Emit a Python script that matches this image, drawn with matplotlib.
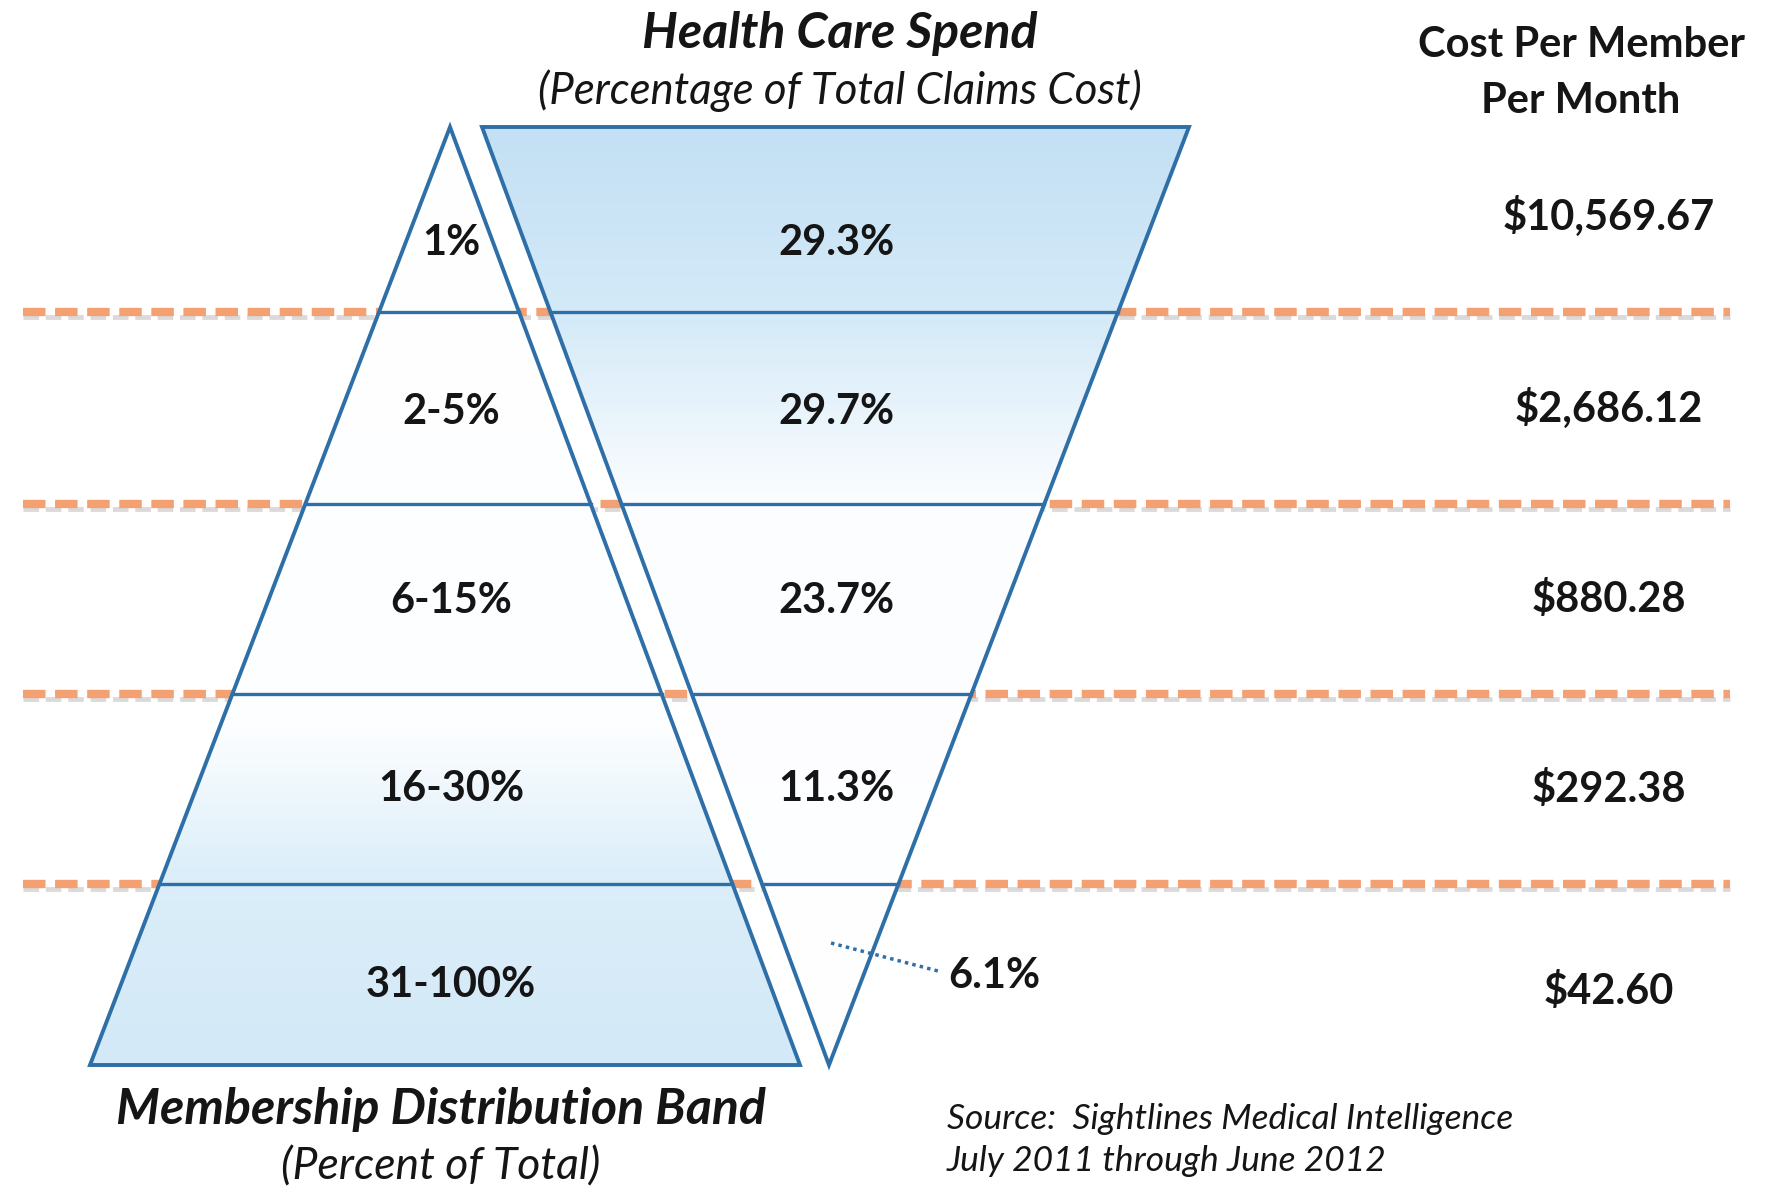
import numpy as np
import matplotlib
matplotlib.use("Agg")
import matplotlib.pyplot as plt
from matplotlib.patches import Polygon
from matplotlib.colors import LinearSegmentedColormap

# data
bands = ["1%", "2-5%", "6-15%", "16-30%", "31-100%"]
spend = ["29.3%", "29.7%", "23.7%", "11.3%", "6.1%"]
cost = ["$10,569.67", "$2,686.12", "$880.28", "$292.38", "$42.60"]

plt.rcParams['font.family'] = ['Lato', 'DejaVu Sans']

W, H = 1767, 1190
fig = plt.figure(figsize=(W / 100, H / 100), dpi=100)
ax = fig.add_axes([0, 0, 1, 1])
ax.set_xlim(0, W)
ax.set_ylim(H, 0)
ax.axis('off')

edge = '#2f6fa7'
ink = '#151515'
# layout (pixel rows of band boundaries and label rows)
levels = [127, 312, 504, 694, 884, 1065]
top, bottom = levels[0], levels[-1]
label_y = [243, 412, 601, 789, 985]
cost_y = [216, 408, 600, 789, 992]

pyr = [(450, top), (800, bottom), (90, bottom)]
inv = [(482, top), (1189, top), (829, bottom)]


def pyr_x(y):
    f = (y - top) / (bottom - top)
    return 450 - f * 360, 450 + f * 350


def inv_x(y):
    f = (y - top) / (bottom - top)
    return 482 + f * 347, 1189 - f * 360


# dashed separators behind the shapes
for y in levels[1:-1]:
    ax.plot([23, 1730], [y + 5, y + 5], color='#bdbdbd', lw=3.5, alpha=0.55,
            dashes=(3.2, 1.4), zorder=1)
    ax.plot([23, 1730], [y, y], color='#f3a072', lw=6,
            dashes=(2.7, 1.15), zorder=2)


def gradient_fill(pts, stops, colors):
    cmap = LinearSegmentedColormap.from_list('g', list(zip(stops, colors)))
    grad = np.linspace(0, 1, 256).reshape(-1, 1)
    xs = [p[0] for p in pts]
    im = ax.imshow(grad, cmap=cmap, aspect='auto', zorder=3,
                   extent=[min(xs), max(xs), bottom, top], origin='upper')
    patch = Polygon(pts, closed=True, facecolor='none', edgecolor=edge,
                    lw=2.8, joinstyle='miter', zorder=5)
    ax.add_patch(patch)
    im.set_clip_path(patch)


gradient_fill(pyr, [0, 0.64, 0.8, 1.0],
              ['#ffffff', '#fdfeff', '#dbeef9', '#d3e9f7'])
gradient_fill(inv, [0, 0.2, 0.4, 1.0],
              ['#c3e0f4', '#d4eaf8', '#fcfdff', '#ffffff'])

# band lines inside the shapes
for y in levels[1:-1]:
    ax.plot(pyr_x(y), [y, y], color=edge, lw=2.4, zorder=4)
    ax.plot(inv_x(y), [y, y], color=edge, lw=2.4, zorder=4)

lab = dict(fontsize=30, fontweight='bold', color=ink,
           ha='center', va='center', zorder=6)
for i in range(len(bands)):
    ax.text(451, label_y[i], bands[i], **lab)
    if i < len(bands) - 1:
        ax.text(836, label_y[i], spend[i], **lab)
    ax.text(1609, cost_y[i], cost[i], **lab)

# small last slice gets a leader
ax.plot([831, 938], [943, 971], color=edge, lw=2.5, ls=(0, (1, 1.2)), zorder=6)
ax.text(948, 976, spend[-1], fontsize=30, fontweight='bold', color=ink,
        ha='left', va='center', zorder=6)

# titles
ax.text(840, 33, "Health Care Spend", fontsize=36, fontweight='bold',
        style='italic', ha='center', va='center', color=ink)
ax.text(840, 91, "(Percentage of Total Claims Cost)", fontsize=31.5,
        style='italic', ha='center', va='center', color=ink)
ax.text(1581, 45, "Cost Per Member", fontsize=30, fontweight='bold',
        ha='center', va='center', color=ink)
ax.text(1581, 101, "Per Month", fontsize=30, fontweight='bold',
        ha='center', va='center', color=ink)
ax.text(441, 1109, "Membership Distribution Band", fontsize=36,
        fontweight='bold', style='italic', ha='center', va='center', color=ink)
ax.text(441, 1167, "(Percent of Total)", fontsize=32, style='italic',
        ha='center', va='center', color=ink)
ax.text(947, 1119, "Source:  Sightlines Medical Intelligence", fontsize=25.5,
        style='italic', ha='left', va='center', color=ink)
ax.text(947, 1161, "July 2011 through June 2012", fontsize=25.5,
        style='italic', ha='left', va='center', color=ink)

fig.savefig("out.png", dpi=100)
